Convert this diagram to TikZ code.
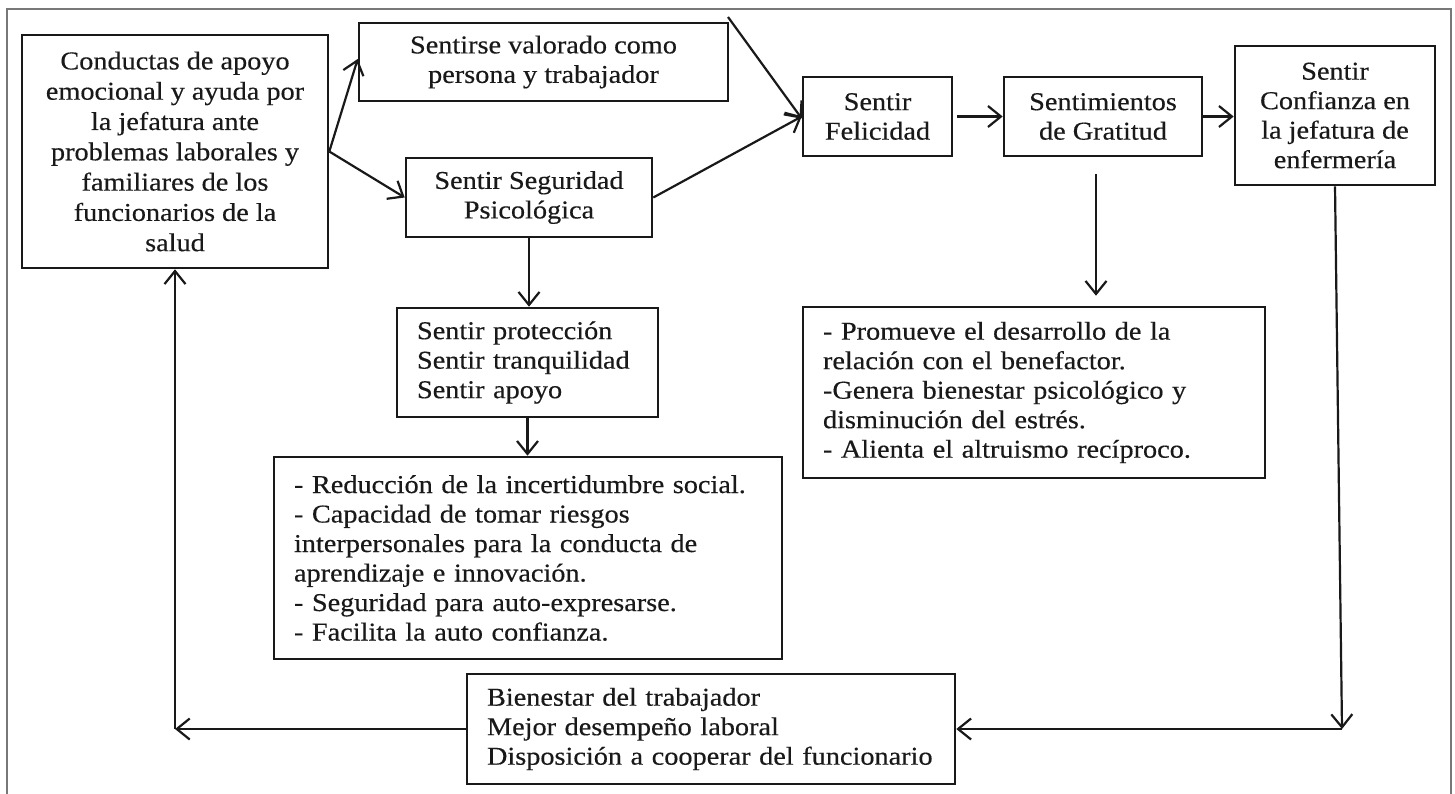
\documentclass[tikz,border=0pt]{standalone}
\usepackage{fontspec}
\setmainfont{Liberation Serif}[FakeStretch=1.1,FakeBold=0.4]
\usetikzlibrary{arrows.meta,calc}
\definecolor{ink}{RGB}{25,25,25}
\definecolor{framec}{RGB}{120,120,120}
\begin{document}
\begin{tikzpicture}[x=1pt,y=-1pt,
  every node/.style={font=\fontsize{25.7}{29.5}\selectfont, text=ink},
  cbox/.style={draw=ink, line width=2.6pt, inner sep=0pt, align=center},
  lbox/.style={draw=ink, line width=2.6pt, inner xsep=20pt, inner ysep=0pt, align=left},
  conn/.style={draw=ink, line width=2.2pt, -{Straight Barb[length=13pt,width=21pt,line width=2.2pt]}},
  plain/.style={draw=ink, line width=2.2pt}
]
\useasboundingbox (0,0) rectangle (1455,793);
\draw[framec, line width=1.4pt] (7,800) -- (7,9) -- (1451,9) -- (1451,800);

\node[cbox, minimum width=306pt, minimum height=233pt, font=\fontsize{25.7}{30.3}\selectfont] (conductas) at (175,151.5)
  {Conductas de apoyo\\emocional y ayuda por\\la jefatura ante\\problemas laborales y\\familiares de los\\funcionarios de la\\salud};
\node[cbox, minimum width=369pt, minimum height=78pt] (valorado) at (543.5,62)
  {Sentirse valorado como\\persona y trabajador};
\node[cbox, minimum width=246pt, minimum height=79pt] (seguridad) at (529,197.5)
  {Sentir Seguridad\\Psicológica};
\node[cbox, minimum width=149pt, minimum height=79pt] (felicidad) at (877.5,116.5)
  {Sentir\\Felicidad};
\node[cbox, minimum width=198pt, minimum height=79pt] (gratitud) at (1103,116.5)
  {Sentimientos\\de Gratitud};
\node[cbox, minimum width=200pt, minimum height=139pt] (confianza) at (1335,115.5)
  {Sentir\\Confianza en\\la jefatura de\\enfermería};
\node[lbox, text width=221pt, minimum height=109pt] (proteccion) at (527.5,362.5)
  {Sentir protección\\Sentir tranquilidad\\Sentir apoyo};
\node[lbox, text width=468pt, minimum height=202pt] (reduccion) at (528,558)
  {- Reducción de la incertidumbre social.\\- Capacidad de tomar riesgos\\interpersonales para la conducta de\\aprendizaje e innovación.\\- Seguridad para auto-expresarse.\\- Facilita la auto confianza.};
\node[lbox, text width=422pt, minimum height=171pt] (promueve) at (1034,392.5)
  {- Promueve el desarrollo de la\\relación con el benefactor.\\-Genera bienestar psicológico y\\disminución\ del estrés.\\- Alienta el altruismo recíproco.};
\node[lbox, text width=448pt, minimum height=110pt] (bienestar) at (711,729)
  {Bienestar del trabajador\\Mejor desempeño laboral\\Disposición a cooperar del funcionario};

\coordinate (vstart) at (728,17);
\coordinate (c1) at (1342,729);
\coordinate (c2) at (175,729);

\draw[conn] (conductas.east) -- ([yshift=3pt]valorado.west);
\draw[conn] (conductas.east) -- (seguridad.west);
\draw[conn] (vstart) -- ([yshift=-2pt]felicidad.west);
\draw[conn] (seguridad.east) -- (felicidad.west);
\draw[conn] (felicidad.east) ++(4,0) -- (gratitud.west);
\draw[conn] (gratitud.east) -- (gratitud.east -| confianza.west);
\draw[conn] (seguridad.south) -- (seguridad.south |- proteccion.north);
\draw[conn] (proteccion.south) -- (proteccion.south |- reduccion.north);
\draw[conn, shorten <=17pt, shorten >=10pt] ([xshift=-7pt]gratitud.south) -- ([xshift=-7pt]gratitud.south |- promueve.north);
\draw[conn] (confianza.south) -- (c1);
\draw[conn] (c1) -- (bienestar.east);
\draw[conn] (bienestar.west) -- (c2);
\draw[conn] (c2) -- (conductas.south);
\end{tikzpicture}
\end{document}
